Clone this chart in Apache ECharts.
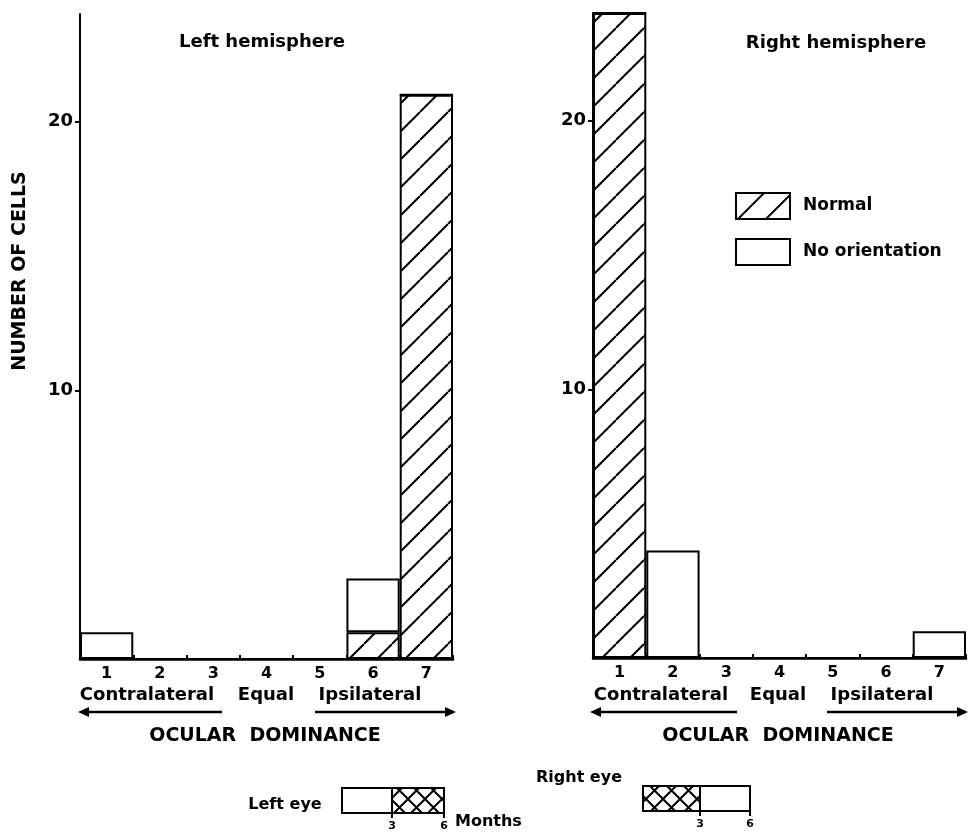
<!DOCTYPE html>
<html>
<head>
<meta charset="utf-8">
<title>Ocular dominance</title>
<script src="https://cdn.jsdelivr.net/npm/echarts@6/dist/echarts.min.js"></script>
<style>
  html, body { margin: 0; padding: 0; background: #fff; }
  #chart { width: 969px; height: 833px; }
</style>
</head>
<body>
<div id="chart"></div>
<script>
// ocular dominance groups 1..7
var groups = ["1", "2", "3", "4", "5", "6", "7"];
// left hemisphere
var leftNormal = [0, 0, 0, 0, 0, 1, 21];
var leftNoOrient = [1, 0, 0, 0, 0, 2, 0];
// right hemisphere
var rightNormal = [24, 0, 0, 0, 0, 0, 0];
var rightNoOrient = [0, 4, 0, 0, 0, 0, 1];
var yTicks = [10, 20];

var FONT = "DejaVu Sans";

// hatch patterns drawn on small canvases
function hatch(size, lw, cross) {
    var c = document.createElement("canvas");
    c.width = c.height = size;
    var g = c.getContext("2d");
    g.fillStyle = "#fff";
    g.fillRect(0, 0, size, size);
    g.strokeStyle = "#000";
    g.lineWidth = lw;
    g.beginPath();
    for (var k = -1; k <= 1; k++) {
        g.moveTo(k * size, size); g.lineTo(k * size + size, 0);
        if (cross) { g.moveTo(k * size, 0); g.lineTo(k * size + size, size); }
    }
    g.stroke();
    return c;
}
var diag = { image: hatch(28, 2, false), repeat: "repeat" };
var xhatch = { image: hatch(17, 2, true), repeat: "repeat" };

var chart = echarts.init(document.getElementById("chart"));

function xAx(idx) {
    return {
        type: "category", gridIndex: idx, data: groups,
        axisLine: { lineStyle: { color: "#000", width: 2.5 } },
        axisTick: { show: true, inside: true, length: 4, alignWithLabel: false, lineStyle: { color: "#000", width: 2 } },
        axisLabel: { color: "#000", fontSize: 16, fontWeight: "bold", fontFamily: FONT, margin: 7 }
    };
}
function yAx(idx) {
    return {
        type: "value", gridIndex: idx, min: 0, max: 24, interval: 10,
        splitLine: { show: false },
        axisLine: { show: true, lineStyle: { color: "#000", width: 2 } },
        axisTick: { show: true, length: 5, customValues: yTicks, lineStyle: { color: "#000", width: 2 } },
        axisLabel: { color: "#000", fontSize: 18, fontWeight: "bold", fontFamily: FONT, margin: 7, customValues: yTicks }
    };
}
function bars(name, data, idx, fill) {
    return {
        name: name, type: "bar", stack: "s" + idx, xAxisIndex: idx, yAxisIndex: idx,
        data: data, barCategoryGap: "0%",
        itemStyle: { color: fill, borderColor: "#000", borderWidth: 2 },
        emphasis: { disabled: true }
    };
}

function txt(s, x, y, size, rot) {
    var o = {
        type: "text", x: x, y: y,
        style: { text: s, fill: "#000", font: "bold " + size + "px '" + FONT + "'", align: "center", verticalAlign: "middle" }
    };
    if (rot) o.rotation = rot;
    return o;
}
function arrow(x1, x2, y, headLeft) {
    var hx = headLeft ? x1 : x2, d = headLeft ? 11 : -11;
    return [
        { type: "line", shape: { x1: x1 + (headLeft ? 6 : 0), y1: y, x2: x2 - (headLeft ? 0 : 6), y2: y }, style: { stroke: "#000", lineWidth: 2.5 } },
        { type: "polygon", shape: { points: [[hx, y], [hx + d, y - 5], [hx + d, y + 5]] }, style: { fill: "#000" } }
    ];
}
function eyeBox(x, y, w, h, split, hatchFirst) {
    var a = { type: "rect", shape: { x: x, y: y, width: split - x, height: h }, style: { fill: hatchFirst ? xhatch : "#fff", stroke: "#000", lineWidth: 2 } };
    var b = { type: "rect", shape: { x: split, y: y, width: x + w - split, height: h }, style: { fill: hatchFirst ? "#fff" : xhatch, stroke: "#000", lineWidth: 2 } };
    var t1 = { type: "line", shape: { x1: split, y1: y + h, x2: split, y2: y + h + 5 }, style: { stroke: "#000", lineWidth: 2 } };
    var t2 = { type: "line", shape: { x1: x + w, y1: y + h, x2: x + w, y2: y + h + 5 }, style: { stroke: "#000", lineWidth: 2 } };
    return [a, b, t1, t2, txt("3", split, y + h + 13, 11), txt("6", x + w, y + h + 13, 11)];
}

var graphics = [
    txt("Left hemisphere", 262, 42, 18),
    txt("Right hemisphere", 836, 43, 18),
    txt("NUMBER OF CELLS", 20, 271, 19, Math.PI / 2),
    txt("Contralateral", 147, 695, 18), txt("Equal", 266, 695, 18), txt("Ipsilateral", 370, 695, 18),
    txt("Contralateral", 661, 695, 18), txt("Equal", 778, 695, 18), txt("Ipsilateral", 882, 695, 18),
    txt("OCULAR  DOMINANCE", 265, 736, 19), txt("OCULAR  DOMINANCE", 778, 736, 19),
    txt("Left eye", 285, 805, 16),
    txt("Right eye", 579, 778, 16),
    { type: "text", x: 455, y: 822, style: { text: "Months", fill: "#000", font: "bold 16px '" + FONT + "'", align: "left", verticalAlign: "middle" } }
]
    .concat(arrow(78, 222, 712, true), arrow(315, 456, 712, false))
    .concat(arrow(590, 737, 712, true), arrow(827, 968, 712, false))
    .concat(eyeBox(342, 788, 102, 25, 392, false), eyeBox(643, 786, 107, 25, 700, true));

chart.setOption({
    animation: false,
    backgroundColor: "#fff",
    grid: [
        { left: 80, top: 14, width: 373, height: 645 },
        { left: 593, top: 13, width: 373, height: 645 }
    ],
    legend: {
        left: 735, top: 192, orient: "vertical", padding: 0, icon: "rect",
        itemWidth: 54, itemHeight: 26, itemGap: 18, selectedMode: false,
        data: ["Normal", "No orientation"],
        textStyle: { color: "#000", fontSize: 17, fontWeight: "bold", fontFamily: FONT, padding: [0, 0, 0, 8] }
    },
    xAxis: [xAx(0), xAx(1)],
    yAxis: [yAx(0), yAx(1)],
    series: [
        bars("Normal", leftNormal, 0, diag),
        bars("No orientation", leftNoOrient, 0, "#fff"),
        bars("Normal", rightNormal, 1, diag),
        bars("No orientation", rightNoOrient, 1, "#fff")
    ],
    graphic: graphics
});
</script>
</body>
</html>
